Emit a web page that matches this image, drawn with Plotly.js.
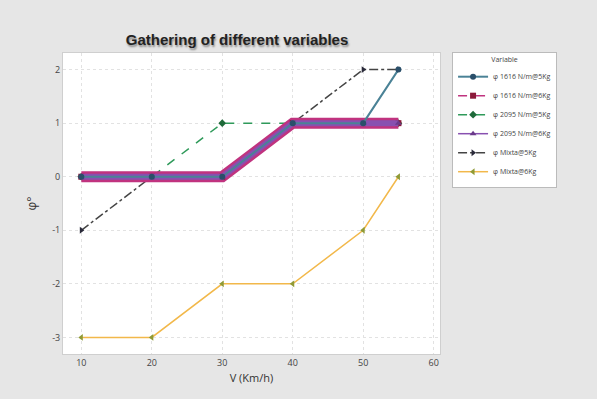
<!DOCTYPE html>
<html>
<head>
<meta charset="utf-8">
<script src="https://cdn.plot.ly/plotly-3.0.1.min.js"></script>
<style>html,body{margin:0;padding:0;background:#e6e6e6;}#chart{width:597px;height:399px;}</style>
</head>
<body>
<div id="chart"></div>
<script>
const speeds = [10, 20, 30, 40, 50, 55];
const seriesNames = ["φ 1616 N/m@5Kg", "φ 1616 N/m@6Kg", "φ 2095 N/m@5Kg", "φ 2095 N/m@6Kg", "φ Mixta@5Kg", "φ Mixta@6Kg"];
const phi1616_5 = [0, 0, 0, 1, 1, 2];
const phi1616_6 = [0, 0, 0, 1, 1, 1];
const phi2095_5 = [0, 0, 1, 1, 1, 1];
const phi2095_6 = [0, 0, 0, 1, 1, 1];
const phiMixta_5 = [-1, 0, 0, 1, 2, 2];
const phiMixta_6 = [-3, -3, -2, -2, -1, 0];
const xTicks = [10, 20, 30, 40, 50, 60];
const yTicks = [-3, -2, -1, 0, 1, 2];

// drawing order (bottom to top); i = legend position
const specs = [
  {y: phi2095_5, i: 2, c: '#2f9a5a', dash: 'dash', w: 1.5, band: 0, sym: 'diamond', mc: '#1f6a3a'},
  {y: phiMixta_5, i: 4, c: '#444444', dash: 'dashdot', w: 1.5, band: 0, sym: 'triangle-right', mc: '#2a2a3a'},
  {y: phiMixta_6, i: 5, c: '#f2b84a', dash: 'solid', w: 1.5, band: 0, sym: 'triangle-left', mc: '#8f9a35'},
  {y: phi1616_6, i: 1, c: '#c0337f', dash: 'dash', w: 1.5, band: 11, sym: 'square', mc: '#8b1a3a'},
  {y: phi2095_6, i: 3, c: '#8850b0', dash: 'solid', w: 1.5, band: 6, sym: 'triangle-up', mc: '#6a3a8a'},
  {y: phi1616_5, i: 0, c: '#4a8296', dash: 'solid', w: 2, band: 0, sym: 'circle', mc: '#2a4f6a'}
];

const traces = [];
specs.forEach(s => {
  if (s.band > 0) {
    traces.push({type: 'scatter', mode: 'lines', x: speeds, y: s.y, showlegend: false, hoverinfo: 'skip',
      line: {color: s.c, width: s.band}});
  }
  traces.push({type: 'scatter', mode: 'lines+markers', x: speeds, y: s.y, name: seriesNames[s.i], legendrank: s.i + 1,
    line: {color: s.c, width: s.w, dash: s.dash}, marker: {symbol: s.sym, size: 6, color: s.mc}});
});

const layout = {
  width: 597, height: 399,
  paper_bgcolor: '#e6e6e6', plot_bgcolor: '#ffffff',
  margin: {l: 63, r: 157, t: 53, b: 45},
  title: {text: 'Gathering of different variables', x: 0.397, xanchor: 'center', y: 0.9, yanchor: 'middle',
    font: {family: 'Liberation Sans, Arial, sans-serif', size: 15, weight: 'bold', color: '#222', shadow: '1px 2px 2px #888'}},
  xaxis: {range: [7.4, 60.9], tickvals: xTicks, ticktext: xTicks.map(String), showgrid: true, gridcolor: '#e2e2e2', griddash: 'dot',
    zeroline: false, showline: true, linecolor: '#cfcfcf', mirror: true, ticks: '', tickfont: {size: 9, color: '#444'},
    title: {text: 'V (Km/h)', font: {size: 11, color: '#333'}, standoff: 6}},
  yaxis: {range: [-3.31, 2.31], tickvals: yTicks, ticktext: yTicks.map(String), showgrid: true, gridcolor: '#e2e2e2', griddash: 'dot',
    zeroline: false, showline: true, linecolor: '#cfcfcf', mirror: true, ticks: '', tickfont: {size: 9, color: '#444'},
    title: {text: 'φ°', font: {size: 12, color: '#333'}, standoff: 12}},
  legend: {x: 1.032, xanchor: 'left', y: 1.003, yanchor: 'top', bgcolor: '#ffffff', bordercolor: '#bbbbbb', borderwidth: 1,
    font: {size: 7, color: '#444'}, title: {text: 'Variable', font: {size: 7, color: '#444'}, side: 'top center'},
    tracegroupgap: 0, itemwidth: 30, traceorder: 'normal'},
  showlegend: true
};

Plotly.newPlot('chart', traces, layout, {displayModeBar: false, staticPlot: true});
</script>
</body>
</html>
